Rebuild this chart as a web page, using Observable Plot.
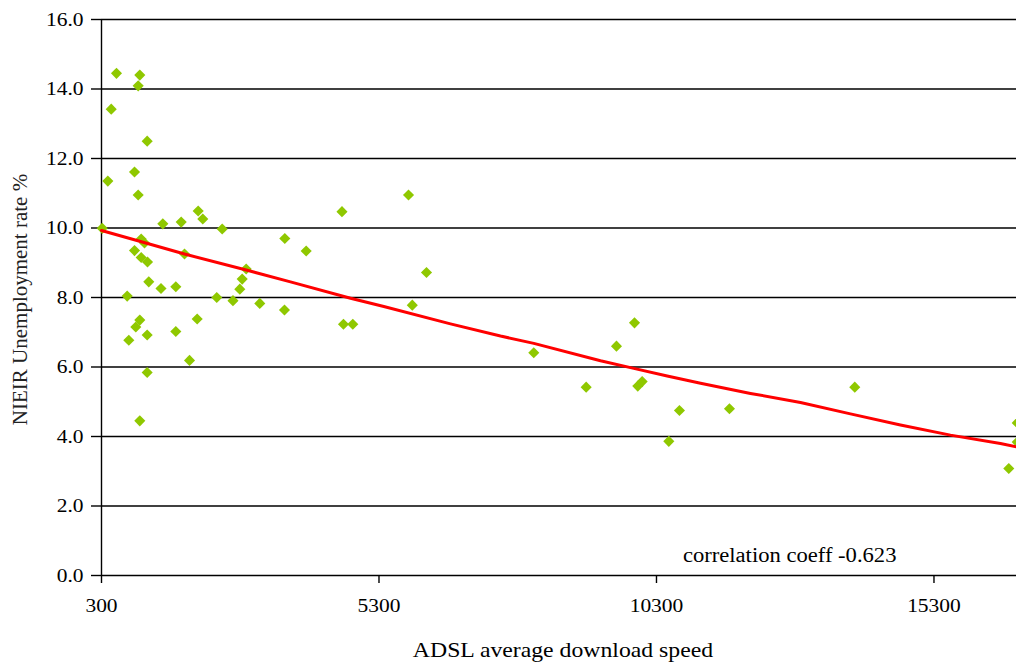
<!DOCTYPE html>
<html>
<head>
<meta charset="utf-8">
<script src="https://cdn.jsdelivr.net/npm/d3@7"></script>
<script src="https://cdn.jsdelivr.net/npm/@observablehq/plot@0.6"></script>
<style>
  html, body { margin: 0; padding: 0; background: #fff; }
  #chart { width: 1016px; height: 664px; overflow: hidden; }
  #chart svg { overflow: hidden; display: block; }
</style>
</head>
<body>
<div id="chart"></div>
<script>
// ADSL average download speed (x) vs NIEIR unemployment rate % (y)
const speed = [570, 990, 961, 475, 1123, 895, 414, 961, 2042, 2125,
  1405, 1736, 2475, 313, 3603, 1015, 1075, 895, 1015, 1129,
  1152, 1372, 1639, 763, 990, 918, 1123, 792, 1639, 2024,
  1886, 1123, 990, 1796, 2377, 2669, 3152, 3597, 2792, 2835,
  2907, 4633, 5832, 3988, 6156, 5900, 4660, 4828, 8089, 9579,
  9904, 9033, 9963, 10042, 10714, 10522, 11615, 13873, 16648, 16800, 16800];
const rate = [14.45, 14.40, 14.09, 13.42, 12.50, 11.61, 11.35, 10.95, 10.49, 10.26,
  10.12, 10.17, 9.97, 9.99, 9.70, 9.68, 9.57, 9.35, 9.15, 9.02,
  8.45, 8.26, 8.31, 8.04, 7.35, 7.15, 6.92, 6.77, 7.02, 7.38,
  6.19, 5.84, 4.45, 9.25, 8.00, 7.91, 7.83, 7.64, 8.24, 8.53,
  8.82, 10.47, 10.95, 9.34, 8.72, 7.78, 7.23, 7.23, 6.41, 6.60,
  7.27, 5.42, 5.45, 5.58, 4.75, 3.86, 4.80, 5.42, 3.08, 4.39, 3.84];

// fitted trend line
const fitSpeed = [300, 1003, 1796, 2907, 3705, 4787, 5387, 6588, 7489, 8090,
  9291, 9891, 10493, 11094, 11994, 12895, 13795, 14696, 15597, 16498, 16787];
const fitRate = [9.93, 9.61, 9.25, 8.79, 8.45, 7.98, 7.74, 7.24, 6.89, 6.68,
  6.18, 5.96, 5.74, 5.53, 5.24, 4.98, 4.65, 4.33, 4.04, 3.80, 3.70];

const xTicks = [300, 5300, 10300, 15300];
const yTicks = [0, 2, 4, 6, 8, 10, 12, 14, 16];
const xTitle = "ADSL average download speed";
const yTitle = "NIEIR Unemployment rate %";
const note = "correlation coeff -0.623";
const noteSpeed = 12700;
const noteRate = 0.56;

const points = speed.map((s, i) => ({speed: s, rate: rate[i]}));
const fit = fitSpeed.map((s, i) => ({speed: s, rate: fitRate[i]}));

const chart = Plot.plot({
  width: 1016,
  height: 664,
  marginLeft: 101,
  marginRight: 0,
  marginTop: 19,
  marginBottom: 89,
  style: {fontFamily: "Liberation Serif", fontSize: "19px", color: "#000", background: "#fff"},
  x: {domain: [300, 16787], label: null},
  y: {domain: [0, 16], label: null},
  marks: [
    Plot.ruleY(yTicks, {stroke: "#000", strokeWidth: 1.4}),
    Plot.ruleX([300], {y1: 0, y2: 16, stroke: "#000", strokeWidth: 1.4}),
    Plot.axisY({ticks: yTicks, tickFormat: d => d.toFixed(1), tickSize: 10, tickPadding: 8, strokeWidth: 1.4, label: null}),
    Plot.axisX({ticks: xTicks, tickFormat: d => String(d), tickSize: 8, tickPadding: 15, strokeWidth: 1.4, label: null}),
    Plot.dot(points, {x: "speed", y: "rate", symbol: "diamond2", r: 5, fill: "#8fc800", stroke: "none"}),
    Plot.line(fit, {x: "speed", y: "rate", stroke: "#ff0000", strokeWidth: 3}),
    Plot.text([note], {x: noteSpeed, y: noteRate, fontSize: 20, textAnchor: "middle", lineAnchor: "middle", fill: "#000"}),
    Plot.text([xTitle], {frameAnchor: "bottom", textAnchor: "middle", lineAnchor: "middle", dx: 4, dy: 75, fontSize: 21, fill: "#000"}),
    Plot.text([yTitle], {frameAnchor: "left", textAnchor: "middle", lineAnchor: "middle", dx: -81, dy: 2, rotate: -90, fontSize: 21, fill: "#222"})
  ]
});

document.getElementById("chart").appendChild(chart);

// the reference renders its text slightly wide; stretch the horizontal texts
d3.select(chart).selectAll("text").each(function() {
  const t = this;
  const tr = (t.getAttribute("transform") || "") + (t.parentNode.getAttribute("transform") || "");
  if (/rotate/.test(tr)) return;
  const len = t.getComputedTextLength();
  if (len > 0) {
    t.setAttribute("textLength", (len * 1.13).toFixed(1));
    t.setAttribute("lengthAdjust", "spacingAndGlyphs");
  }
});
</script>
</body>
</html>
